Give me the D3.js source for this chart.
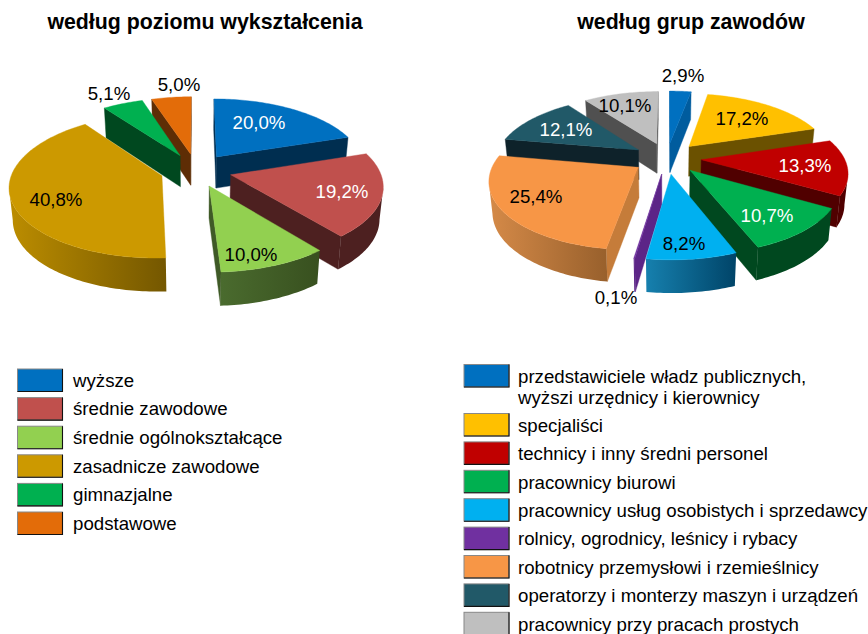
<!DOCTYPE html>
<html lang="pl"><head><meta charset="utf-8">
<style>html,body{margin:0;padding:0;background:#fff}svg{display:block}text{font-family:"Liberation Sans",Arial,sans-serif;fill:#000}</style>
<script src="https://d3js.org/d3.v7.min.js"></script></head><body>
<svg id="c" width="868" height="634"></svg>
<script>
// ---- data ----
const eduTitle = "według poziomu wykształcenia";
const eduCategories = ["wyższe","średnie zawodowe","średnie ogólnokształcące","zasadnicze zawodowe","gimnazjalne","podstawowe"];
const eduValues = [20.0,19.2,10.0,40.8,5.1,5.0];
const jobTitle = "według grup zawodów";
const jobCategories = [["przedstawiciele władz publicznych,","wyższi urzędnicy i kierownicy"],["specjaliści"],["technicy i inny średni personel"],["pracownicy biurowi"],["pracownicy usług osobistych i sprzedawcy"],["rolnicy, ogrodnicy, leśnicy i rybacy"],["robotnicy przemysłowi i rzemieślnicy"],["operatorzy i monterzy maszyn i urządzeń"],["pracownicy przy pracach prostych"]];
const jobValues = [2.9,17.2,13.3,10.7,8.2,0.1,25.4,12.1,10.1];
// ---- styles ----
const eduTop  = ["#0070C0","#C0504D","#92D050","#CC9900","#00B050","#E36C09"];
const eduSide = ["#002E50","#4D2020","#3F5A27","#5B4400","#00481F","#5E2D05"];
const eduRimL = ["#002E50","#4D2020","#4A6B2E","#BC8D00","#00481F","#5E2D05"];
const eduRimR = ["#002E50","#4D2020","#38501F","#745700","#00481F","#5E2D05"];
const eduInk  = ["#fff","#fff","#000","#000","#000","#000"];
const eduLabelAt = [[259,122],[342,191],[251,254],[56,199],[109,93],[179,84]];
const jobTop  = ["#0070C0","#FFC000","#C00000","#00B050","#00B0F0","#7030A0","#F79646","#215968","#BFBFBF"];
const jobSide = ["#005C9E","#6B5100","#500000","#00481F","#0A6A94","#5C2587","#C57C3A","#0E222A","#505050"];
const jobRimL = ["#005C9E","#6B5100","#500000","#00481F","#1680AE","#5C2587","#D58A48","#0E222A","#505050"];
const jobRimR = ["#005C9E","#6B5100","#500000","#00481F","#004468","#5C2587","#98602C","#0E222A","#505050"];
const jobInk  = ["#000","#000","#fff","#fff","#000","#000","#000","#fff","#000"];
const jobLabelAt = [[683,75],[742,118],[805,165],[767,215],[684,243],[616,297],[536,196],[566,129],[625,105]];

const svg = d3.select("#c");
const defs = svg.append("defs");
let gid = 0;

function pie3d(cfg){
  const {values,cx,cy,A,B,p,D,e,top,side,rimL,rimR} = cfg;
  const k = 0.98;
  const proj = (u,v,z) => {
    const s = 1/(1+p*v), f = z ? k : 1;
    return [cx + A*u*s*f, cy - B*v*s*f + (z ? D*Math.pow(s,0.7) : 0)];
  };
  const slices = d3.pie().sort(null).value(d=>d)(values).map((a,i)=>{
    const mid = (a.startAngle+a.endAngle)/2;
    return {...a,i,mid,ou:e*Math.sin(mid),ov:e*Math.cos(mid)};
  });
  const line = d3.line().curve(d3.curveLinear);
  const cam = -1/p;
  slices.sort((a,b)=>b.ov-a.ov).forEach(sl=>{
    const g = svg.append("g");
    const rim = th => [sl.ou+Math.sin(th), sl.ov+Math.cos(th)];
    const n = Math.max(2,Math.ceil((sl.endAngle-sl.startAngle)/0.02));
    const ths = d3.range(n+1).map(j=>sl.startAngle+(sl.endAngle-sl.startAngle)*j/n);
    // radial walls
    [[sl.startAngle,[-Math.cos(sl.startAngle),Math.sin(sl.startAngle)]],
     [sl.endAngle,[Math.cos(sl.endAngle),-Math.sin(sl.endAngle)]]].forEach(([th,nv])=>{
      if(nv[0]*(0-sl.ou)+nv[1]*(cam-sl.ov) <= 0) return;
      const [ru,rv]=rim(th);
      g.append("path").attr("d",line([proj(sl.ou,sl.ov,0),proj(ru,rv,0),proj(ru,rv,1),proj(sl.ou,sl.ov,1)])+"Z")
       .attr("fill",side[sl.i]).attr("stroke",side[sl.i]).attr("stroke-width",0.4);
    });
    // curved wall
    const vis = ths.filter(th=>{const [u,v]=rim(th);return Math.sin(th)*(0-u)+Math.cos(th)*(cam-v)>0;});
    if(vis.length>1){
      const upper = vis.map(th=>{const [u,v]=rim(th);return proj(u,v,0);});
      const lower = vis.map(th=>{const [u,v]=rim(th);return proj(u,v,1);}).reverse();
      const xs = d3.extent(upper.concat(lower),d=>d[0]);
      const id = "rim"+(gid++);
      const lg = defs.append("linearGradient").attr("id",id).attr("gradientUnits","userSpaceOnUse")
        .attr("x1",xs[0]).attr("x2",xs[1]).attr("y1",0).attr("y2",0);
      lg.append("stop").attr("offset",0).attr("stop-color",rimL[sl.i]);
      lg.append("stop").attr("offset",1).attr("stop-color",rimR[sl.i]);
      g.append("path").attr("d",line(upper.concat(lower))+"Z").attr("fill",`url(#${id})`);
    }
    // top face
    const pts = [proj(sl.ou,sl.ov,0)].concat(ths.map(th=>{const [u,v]=rim(th);return proj(u,v,0);}));
    g.append("path").attr("d",line(pts)+"Z").attr("fill",top[sl.i]).attr("stroke",top[sl.i]).attr("stroke-width",0.4);
  });
}

pie3d({values:eduValues,cx:196,cy:170,A:149,B:69.3,p:0.138,D:31.5,e:0.24,top:eduTop,side:eduSide,rimL:eduRimL,rimR:eduRimR});
pie3d({values:jobValues,cx:667,cy:158,A:143,B:65.2,p:0.167,D:30,e:0.24,top:jobTop,side:jobSide,rimL:jobRimL,rimR:jobRimR});

const fmt = v => v.toFixed(1).replace(".",",")+"%";
function labels(values,at,ink){
  svg.append("g").selectAll("text").data(values).join("text")
    .attr("x",(d,i)=>at[i][0]).attr("y",(d,i)=>at[i][1]+6.7)
    .attr("text-anchor","middle").attr("font-size",18.67).style("fill",(d,i)=>ink[i]).text(fmt);
}
labels(eduValues,eduLabelAt,eduInk);
labels(jobValues,jobLabelAt,jobInk);

function title(t,x){
  svg.append("text").attr("x",x).attr("y",29).attr("text-anchor","middle")
    .attr("font-size",21.33).attr("font-weight","bold").text(t);
}
title(eduTitle,205); title(jobTitle,691);

function swatch(x,y,w,h,c){
  svg.append("rect").attr("x",x).attr("y",y).attr("width",w).attr("height",h).attr("fill",c).attr("stroke","#888").attr("stroke-width",1);
  svg.append("path").attr("d",`M${x+w},${y}V${y+h}H${x}`).attr("fill","none").attr("stroke","#111").attr("stroke-width",1.1);
}
// legends
const eduRow = d3.scaleLinear().domain([0,1]).range([369,397.6]);
eduCategories.forEach((t,i)=>{
  const y = eduRow(i);
  swatch(17.5,y,45,22.5,eduTop[i]);
  svg.append("text").attr("x",73).attr("y",y+17.7).attr("font-size",18.67).text(t);
});
const jobRow = d3.scaleLinear().domain([1,2]).range([413.5,441.9]);
jobCategories.forEach((lines,i)=>{
  const y = i===0 ? 364.5 : jobRow(i);
  swatch(464,y,45,22.5,jobTop[i]);
  lines.forEach((t,j)=>svg.append("text").attr("x",518).attr("y",y+18.2+j*21).attr("font-size",18.67).text(t));
});
</script></body></html>
